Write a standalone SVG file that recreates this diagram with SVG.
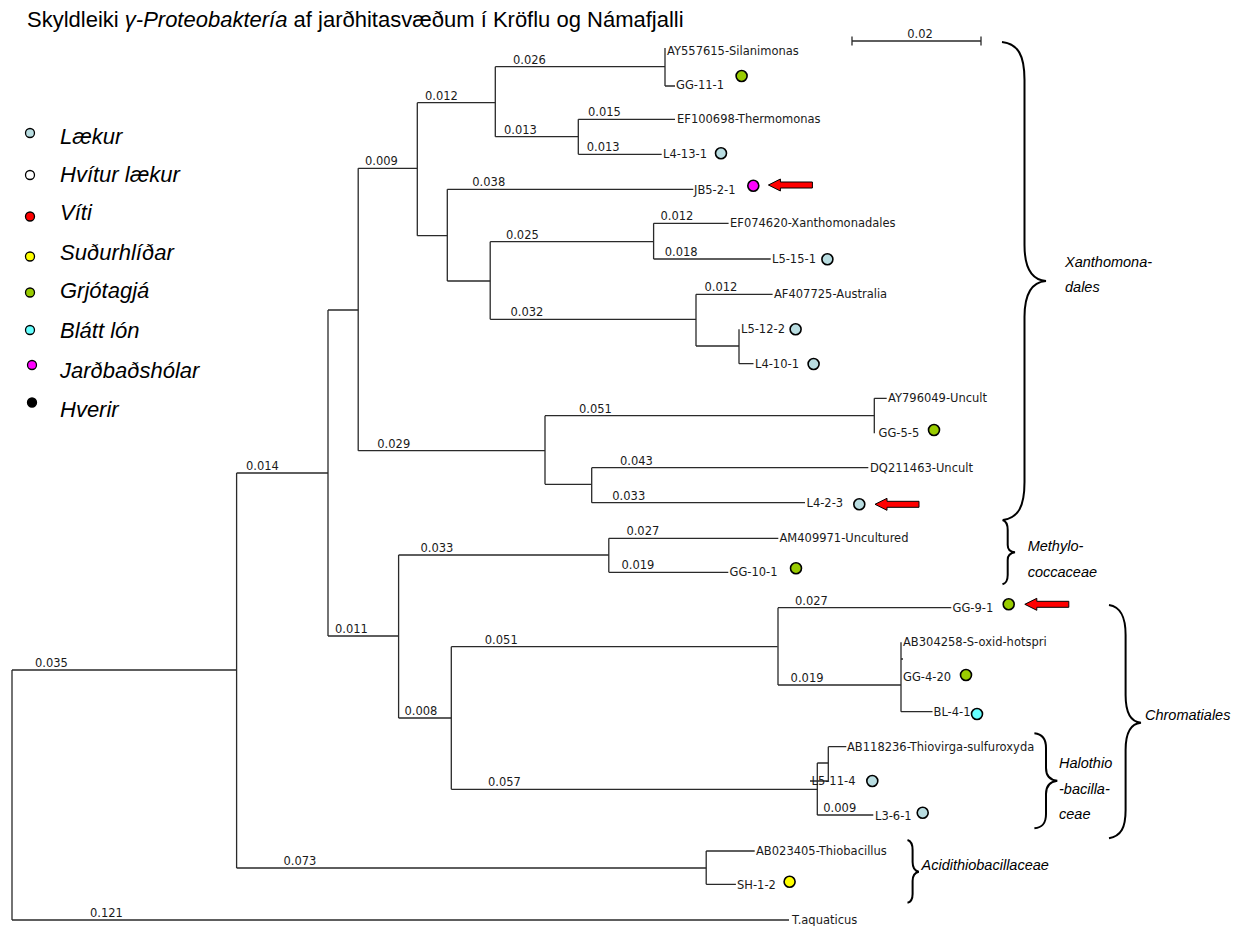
<svg xmlns="http://www.w3.org/2000/svg" xmlns:xlink="http://www.w3.org/1999/xlink" width="1236" height="926" viewBox="0 0 1236 926">
<style>
.bg{fill:#ffffff}
.tl{fill:none;stroke:#2a2a2a;stroke-width:1.3}
.br{fill:none;stroke:#000;stroke-width:2}
.lbl{font-family:"DejaVu Sans",Verdana,sans-serif;font-size:11.5px;fill:#1a1a1a}
.bl{font-family:"DejaVu Sans",Verdana,sans-serif;font-size:11.5px;fill:#1a1a1a}
.leg{font-family:"Liberation Sans",Arial,sans-serif;font-size:22px;font-style:italic;fill:#000}
.grp{font-family:"Liberation Sans",Arial,sans-serif;font-size:14.5px;font-style:italic;fill:#000}
.title{font-family:"Liberation Sans",Arial,sans-serif;font-size:22px;fill:#000}
.dot{stroke:#000;stroke-width:1.6}
.ldot{stroke:#000;stroke-width:1.3}
.lak{fill:#b9dde1}.hvi{fill:#ffffff}.vit{fill:#ff0000}.sud{fill:#ffff00}.grj{fill:#99cc00}.bla{fill:#66ffff}.jar{fill:#ff00ff}.hve{fill:#000000}
.arr{fill:#ff0000;stroke:#000;stroke-width:1}
</style>
<defs>
<polygon id="arrow" class="arr" points="0,0 12,-6 12,-3 44,-3 44,3 12,3 12,6"/>
</defs>
<rect class="bg" x="0" y="0" width="1236" height="926"/>

<g id="title"><text class="title" x="27" y="27">Skyldleiki <tspan font-style="italic">γ-Proteobaktería</tspan> af jarðhitasvæðum í Kröflu og Námafjalli</text></g>

<g id="legend">
<g id="leg-laekur"><circle class="ldot lak" cx="30" cy="133" r="4.5"/><text class="leg" x="60" y="144">Lækur</text></g>
<g id="leg-hvitur"><circle class="ldot hvi" cx="30" cy="175" r="4.5"/><text class="leg" x="60" y="182">Hvítur lækur</text></g>
<g id="leg-viti"><circle class="ldot vit" cx="30" cy="216.5" r="4.5"/><text class="leg" x="60" y="220">Víti</text></g>
<g id="leg-sudur"><circle class="ldot sud" cx="30" cy="256.5" r="4.5"/><text class="leg" x="60" y="260">Suðurhlíðar</text></g>
<g id="leg-grjota"><circle class="ldot grj" cx="30" cy="292.5" r="4.5"/><text class="leg" x="60" y="298">Grjótagjá</text></g>
<g id="leg-blatt"><circle class="ldot bla" cx="30" cy="330" r="4.5"/><text class="leg" x="60" y="338">Blátt lón</text></g>
<g id="leg-jardbad"><circle class="ldot jar" cx="32" cy="365" r="4.5"/><text class="leg" x="60" y="378">Jarðbaðshólar</text></g>
<g id="leg-hverir"><circle class="ldot hve" cx="32" cy="402.5" r="4.5"/><text class="leg" x="60" y="417">Hverir</text></g>
</g>

<g id="scalebar">
<path class="tl" d="M852,41 H981 M852,36.5 V45.5 M981,36.5 V45.5"/>
<text class="bl" x="920" y="38" text-anchor="middle">0.02</text>
</g>

<g id="connectors">
<path class="tl" d="M12,670 V920 M12,670 H236.6 M12,920 H789"/>
<path class="tl" d="M236.6,473 V868 M236.6,473 H328 M236.6,868 H706.2"/>
<path class="tl" d="M328,310 V636 M328,310 H358.2 M328,636 H398.6"/>
<path class="tl" d="M358.2,168.3 V450.7 M358.2,168.3 H417.3 M358.2,450.7 H545"/>
<path class="tl" d="M417.3,102.7 V235.7 M417.3,102.7 H495.3 M417.3,235.7 H447.3"/>
<path class="tl" d="M495.3,66.7 V136.7 M495.3,66.7 H665 M495.3,136.7 H578.3"/>
<path class="tl" d="M665,48 V86 M665,86 H675"/>
<path class="tl" d="M578.3,119.3 V154.3 M578.3,119.3 H675 M578.3,154.3 H661.7"/>
<path class="tl" d="M447.3,189.3 V281 M447.3,189.3 H693.3 M447.3,281 H490.2"/>
<path class="tl" d="M490.2,241.7 V319.3 M490.2,241.7 H653.6 M490.2,319.3 H696"/>
<path class="tl" d="M653.6,223.3 V259 M653.6,223.3 H728.6 M653.6,259 H770.7"/>
<path class="tl" d="M696,294.3 V346 M696,294.3 H772.6 M696,346 H739"/>
<path class="tl" d="M739,329.3 V363.7 M739,363.7 H753.5"/>
<path class="tl" d="M545,415.7 V484.3 M545,415.7 H874.3 M545,484.3 H591.7"/>
<path class="tl" d="M874.3,398.3 V433.3 M874.3,398.3 H886.7"/>
<path class="tl" d="M591.7,467.7 V502.7 M591.7,467.7 H868.3 M591.7,502.7 H805"/>
<path class="tl" d="M398.6,555 V718 M398.6,555 H608.8 M398.6,718 H451.3"/>
<path class="tl" d="M608.8,538.3 V572.3 M608.8,538.3 H778.3 M608.8,572.3 H728.3"/>
<path class="tl" d="M451.3,646.7 V789.3 M451.3,646.7 H777.6 M451.3,789.3 H817.3"/>
<path class="tl" d="M778,607.7 V685 M778,607.7 H951.3 M778,685 H901"/>
<path class="tl" d="M901,642.3 V711.7 M901,711.7 H932.5 M901,659 H903"/>
<path class="tl" d="M817.3,763 V815 M817.3,763 H828.3 M817.3,815 H873.3"/>
<path class="tl" d="M828.3,746.7 V781 M828.3,746.7 H846.3 M828.3,781 H810"/>
<path class="tl" d="M706.2,851 V884.3 M706.2,851 H754.7 M706.2,884.3 H735.9"/>
<g id="branch-lengths" class="bl">
<text x="35" y="667">0.035</text>
<text x="90" y="917">0.121</text>
<text x="246" y="470">0.014</text>
<text x="283.5" y="865">0.073</text>
<text x="335" y="633">0.011</text>
<text x="404.5" y="715">0.008</text>
<text x="484.8" y="643.7">0.051</text>
<text x="488" y="786">0.057</text>
<text x="365" y="165.3">0.009</text>
<text x="425" y="99.7">0.012</text>
<text x="513" y="63.7">0.026</text>
<text x="504" y="133.7">0.013</text>
<text x="588" y="116.3">0.015</text>
<text x="586.7" y="151.3">0.013</text>
<text x="472.3" y="186.3">0.038</text>
<text x="505.9" y="238.7">0.025</text>
<text x="660.5" y="220.3">0.012</text>
<text x="664.7" y="256">0.018</text>
<text x="510.5" y="316.3">0.032</text>
<text x="704.5" y="291.3">0.012</text>
<text x="377.3" y="447.7">0.029</text>
<text x="579" y="412.7">0.051</text>
<text x="620" y="464.7">0.043</text>
<text x="612.3" y="499.7">0.033</text>
<text x="420.5" y="552">0.033</text>
<text x="626.4" y="535.3">0.027</text>
<text x="621.5" y="569.3">0.019</text>
<text x="795" y="604.7">0.027</text>
<text x="790.6" y="682">0.019</text>
<text x="823.3" y="812">0.009</text>
</g>
</g>

<g id="leaves">
<g id="n-AY557615"><text class="lbl" x="667" y="55">AY557615-Silanimonas</text></g>
<g id="n-GG-11-1"><text class="lbl" x="676" y="89">GG-11-1</text><circle class="dot grj" cx="741.6" cy="76" r="5.5"/></g>
<g id="n-EF100698"><text class="lbl" x="677" y="123">EF100698-Thermomonas</text></g>
<g id="n-L4-13-1"><text class="lbl" x="663" y="158">L4-13-1</text><circle class="dot lak" cx="721" cy="153.3" r="5.5"/></g>
<g id="n-JB5-2-1"><text class="lbl" x="694" y="193.5">JB5-2-1</text><circle class="dot jar" cx="753.3" cy="185.7" r="5.5"/><use xlink:href="#arrow" href="#arrow" x="768.4" y="185"/></g>
<g id="n-EF074620"><text class="lbl" x="730" y="227">EF074620-Xanthomonadales</text></g>
<g id="n-L5-15-1"><text class="lbl" x="772" y="262.5">L5-15-1</text><circle class="dot lak" cx="827.4" cy="259.3" r="5.5"/></g>
<g id="n-AF407725"><text class="lbl" x="774" y="298.3">AF407725-Australia</text></g>
<g id="n-L5-12-2"><text class="lbl" x="741" y="333">L5-12-2</text><circle class="dot lak" cx="795.6" cy="329.3" r="5.5"/></g>
<g id="n-L4-10-1"><text class="lbl" x="755" y="367.5">L4-10-1</text><circle class="dot lak" cx="813.6" cy="364" r="5.5"/></g>
<g id="n-AY796049"><text class="lbl" x="888" y="402">AY796049-Uncult</text></g>
<g id="n-GG-5-5"><text class="lbl" x="878.5" y="437">GG-5-5</text><circle class="dot grj" cx="934" cy="430" r="5.5"/></g>
<g id="n-DQ211463"><text class="lbl" x="870" y="471.5">DQ211463-Uncult</text></g>
<g id="n-L4-2-3"><text class="lbl" x="806.5" y="506.5">L4-2-3</text><circle class="dot lak" cx="859.3" cy="504.3" r="5.5"/><use xlink:href="#arrow" href="#arrow" x="875" y="504.3"/></g>
<g id="n-AM409971"><text class="lbl" x="779.5" y="542">AM409971-Uncultured</text></g>
<g id="n-GG-10-1"><text class="lbl" x="729.5" y="576">GG-10-1</text><circle class="dot grj" cx="796" cy="568.3" r="5.5"/></g>
<g id="n-GG-9-1"><text class="lbl" x="952.5" y="611.5">GG-9-1</text><circle class="dot grj" cx="1008.7" cy="604.3" r="5.5"/><use xlink:href="#arrow" href="#arrow" x="1024.8" y="604.3"/></g>
<g id="n-AB304258"><text class="lbl" x="903" y="646">AB304258-S-oxid-hotspri</text></g>
<g id="n-GG-4-20"><text class="lbl" x="903" y="680.5">GG-4-20</text><circle class="dot grj" cx="966" cy="675" r="5.5"/></g>
<g id="n-BL-4-1"><text class="lbl" x="933.5" y="715.5">BL-4-1</text><circle class="dot bla" cx="977" cy="714" r="5.5"/></g>
<g id="n-AB118236"><text class="lbl" x="847" y="750.5">AB118236-Thiovirga-sulfuroxyda</text></g>
<g id="n-L5-11-4"><text class="lbl" x="811.5" y="785">L5-11-4</text><circle class="dot lak" cx="872.3" cy="781" r="5.5"/></g>
<g id="n-L3-6-1"><text class="lbl" x="875" y="820">L3-6-1</text><circle class="dot lak" cx="922.7" cy="812.7" r="5.5"/></g>
<g id="n-AB023405"><text class="lbl" x="756" y="855">AB023405-Thiobacillus</text></g>
<g id="n-SH-1-2"><text class="lbl" x="737" y="888.5">SH-1-2</text><circle class="dot sud" cx="789.6" cy="881.7" r="5.5"/></g>
<g id="n-Taquaticus"><text class="lbl" x="792" y="924">T.aquaticus</text></g>
</g>

<g id="groups">
<g id="g-xanthomonadales"><path class="br" d="M1002,42 C1018,44 1024.5,55 1024.5,80 L1024.5,245 C1024.5,268 1032,280 1046,281 C1032,282 1024.5,294 1024.5,317 L1024.5,482 C1024.5,507 1018,518 1003,520"/><text class="grp" x="1065" y="267.3">Xanthomona-</text><text class="grp" x="1065" y="292.3">dales</text></g>
<g id="g-methylococcaceae"><path class="br" d="M1002.5,520 C1006,521 1007.7,524 1007.7,530 L1007.7,545 C1007.7,550 1010,552 1015,552.3 C1010,553 1007.7,555 1007.7,560 L1007.7,575 C1007.7,581 1006,583 1002.5,584.3"/><text class="grp" x="1027.7" y="550.7">Methylo-</text><text class="grp" x="1027.7" y="576.7">coccaceae</text></g>
<g id="g-chromatiales"><path class="br" d="M1109,605 C1121,607 1125.6,617 1125.6,635 L1125.6,695 C1125.6,713 1131,722 1141,722.7 C1131,723.5 1125.6,732 1125.6,750 L1125.6,810 C1125.6,828 1121,836 1109,838.3"/><text class="grp" x="1145" y="720">Chromatiales</text></g>
<g id="g-halothiobacillaceae"><path class="br" d="M1034.4,733.3 C1042,734 1046,738 1046,748 L1046,768 C1046,776 1050,780 1057.3,780.7 C1050,781.5 1046,786 1046,794 L1046,814 C1046,824 1042,827.5 1034.4,828.3"/><text class="grp" x="1059" y="768.3">Halothio</text><text class="grp" x="1059" y="794.3">-bacilla-</text><text class="grp" x="1059" y="819.3">ceae</text></g>
<g id="g-acidithiobacillaceae"><path class="br" d="M907.5,840 C911,841 912.6,844 912.6,850 L912.6,862 C912.6,868 915,871 918.8,871.7 C915,872.5 912.6,875 912.6,881 L912.6,894 C912.6,900 911,902 907.5,902.7"/><text class="grp" x="921.5" y="870">Acidithiobacillaceae</text></g>
</g>
</svg>
